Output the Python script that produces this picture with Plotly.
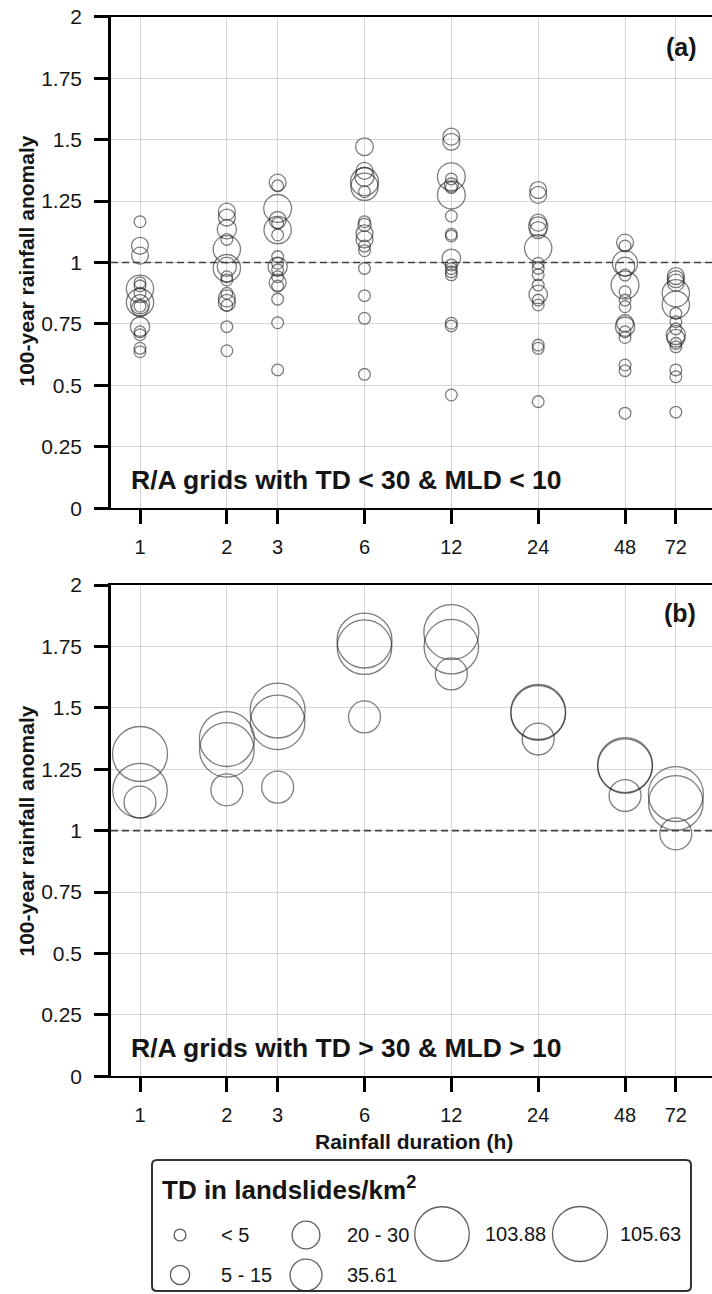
import numpy as np
import plotly.graph_objects as go

# ---------------------------------------------------------------- data
durations = [1, 2, 3, 6, 12, 24, 48, 72]
duration_labels = ["1", "2", "3", "6", "12", "24", "48", "72"]
anomaly_ticks = [0, 0.25, 0.5, 0.75, 1, 1.25, 1.5, 1.75, 2]
anomaly_tick_labels = ["0", "0.25", "0.5", "0.75", "1", "1.25", "1.5", "1.75", "2"]

# (a) R/A grids with TD < 30 & MLD < 10 : anomaly and TD per grid, one list per duration
a_anomaly = [
    [1.166, 1.068, 1.028, 0.918, 0.905, 0.893, 0.875, 0.838, 0.830, 0.822, 0.815, 0.739, 0.718, 0.706, 0.651, 0.637],
    [1.207, 1.183, 1.135, 1.094, 1.054, 0.983, 0.977, 0.942, 0.929, 0.875, 0.854, 0.836, 0.826, 0.739, 0.641],
    [1.325, 1.312, 1.220, 1.173, 1.160, 1.132, 1.112, 1.024, 0.997, 0.983, 0.970, 0.942, 0.918, 0.904, 0.851, 0.755, 0.563],
    [1.471, 1.373, 1.349, 1.329, 1.308, 1.288, 1.166, 1.153, 1.119, 1.094, 1.067, 1.048, 0.976, 0.865, 0.773, 0.545],
    [1.512, 1.491, 1.349, 1.340, 1.315, 1.305, 1.275, 1.189, 1.115, 1.108, 1.017, 0.990, 0.975, 0.962, 0.950, 0.753, 0.742, 0.461],
    [1.295, 1.275, 1.162, 1.146, 1.132, 1.058, 0.997, 0.976, 0.950, 0.908, 0.870, 0.847, 0.827, 0.664, 0.651, 0.434],
    [1.081, 1.067, 0.997, 0.983, 0.949, 0.908, 0.881, 0.847, 0.820, 0.753, 0.739, 0.718, 0.695, 0.583, 0.560, 0.387],
    [0.945, 0.932, 0.918, 0.875, 0.828, 0.793, 0.759, 0.730, 0.705, 0.692, 0.671, 0.657, 0.563, 0.535, 0.391],
]
a_td = [
    [4.8, 10, 10, 4.8, 4.8, 26, 4.8, 26, 13, 4.8, 10, 13, 4.8, 4.8, 4.8, 4.8],
    [10, 10, 13, 4.8, 26, 13, 26, 4.8, 4.8, 4.8, 10, 10, 4.8, 4.8, 4.8],
    [10, 4.8, 27, 10, 4.8, 26, 4.8, 4.8, 4.8, 13, 4.8, 4.8, 10, 4.8, 4.8, 4.8, 4.8],
    [11, 10, 13, 27, 26, 4.8, 4.8, 6, 10, 10, 4.8, 4.8, 4.8, 4.8, 4.8, 4.8],
    [10, 10, 27, 4.8, 7, 4.8, 27, 4.8, 4.8, 4.8, 12, 4.8, 4.8, 4.8, 4.8, 4.8, 4.8, 4.8],
    [10, 10, 10, 13, 10, 26, 4.8, 4.8, 4.8, 4.8, 12, 4.8, 4.8, 4.8, 4.8, 4.8],
    [10, 4.8, 22, 13, 4.8, 27, 4.8, 4.8, 4.8, 10, 13, 4.8, 4.8, 4.8, 4.8, 4.8],
    [10, 10, 10, 26, 26, 4.8, 4.8, 4.8, 13, 11, 4.8, 4.8, 4.8, 4.8, 4.8],
]

# (b) R/A grids with TD > 30 & MLD > 10 : the three grids (TD 105.63, 103.88, 35.61)
b_td = [105.63, 103.88, 35.61]
b_anomaly = [
    [1.312, 1.163, 1.116],
    [1.373, 1.329, 1.166],
    [1.489, 1.441, 1.177],
    [1.774, 1.747, 1.463],
    [1.808, 1.749, 1.638],
    [1.483, 1.479, 1.373],
    [1.267, 1.263, 1.143],
    [1.149, 1.113, 0.987],
]

# legend entries: label and representative TD
legend_labels = ["< 5", "5 - 15", "20 - 30", "35.61", "103.88", "105.63"]
legend_td = [4.9, 13, 27, 35.61, 103.88, 105.63]

# ---------------------------------------------------------------- layout constants
W, H = 712, 1294
ML = 111
FONT = "Liberation Sans, Arial, Helvetica, sans-serif"
INK = "#151515"
CIRCLE = "rgba(30,30,30,0.82)"


def bubble_px(td):
    """Circle diameter in px, area proportional to TD."""
    return 5.35 * np.sqrt(np.asarray(td, dtype=float))


def px_x(px):
    return (px - ML) / (W - ML)


def px_y(py):
    return (H - py) / H


fig = go.Figure()

# panel (a)
ax_, ay_, as_ = [], [], []
for d, vals, tds in zip(durations, a_anomaly, a_td):
    ax_ += [d] * len(vals)
    ay_ += vals
    as_ += list(bubble_px(tds))
fig.add_trace(go.Scatter(
    x=ax_, y=ay_, mode="markers", xaxis="x", yaxis="y", showlegend=False,
    marker=dict(size=as_, color="rgba(0,0,0,0)", line=dict(color=CIRCLE, width=1.3)),
))

# panel (b)
bx_, by_, bs_ = [], [], []
for d, vals in zip(durations, b_anomaly):
    bx_ += [d] * len(vals)
    by_ += vals
    bs_ += list(bubble_px(b_td))
fig.add_trace(go.Scatter(
    x=bx_, y=by_, mode="markers", xaxis="x2", yaxis="y2", showlegend=False,
    marker=dict(size=bs_, color="rgba(0,0,0,0)", line=dict(color=CIRCLE, width=1.3)),
))

# size legend drawn on a pixel-unit helper axis
leg_pos = [(180, 1235), (180, 1275), (306, 1235), (306, 1275), (442, 1234), (580, 1234)]
leg_text_x = [219, 219, 345, 345, 483, 618]
fig.add_trace(go.Scatter(
    x=[p[0] for p in leg_pos], y=[-p[1] for p in leg_pos], mode="markers",
    xaxis="x3", yaxis="y3", showlegend=False, cliponaxis=False,
    marker=dict(size=list(bubble_px(legend_td)), color="rgba(0,0,0,0)",
                line=dict(color="#1e1e1e", width=1.3)),
))

annotations = []
for lab, (cx, cy), tx in zip(legend_labels, leg_pos, leg_text_x):
    annotations.append(dict(
        x=tx, y=-cy, xref="x3", yref="y3", text=lab, showarrow=False,
        xanchor="left", yanchor="middle", font=dict(family=FONT, size=20, color=INK),
    ))
annotations.append(dict(
    x=160, y=-1188, xref="x3", yref="y3", text="<b>TD in landslides/km<sup>2</sup></b>",
    showarrow=False, xanchor="left", yanchor="middle",
    font=dict(family=FONT, size=26, color=INK),
))

# panel texts
for letter, (cx, cy) in zip(["(a)", "(b)"], [(681, 47), (680, 613)]):
    annotations.append(dict(
        x=px_x(cx), y=px_y(cy), xref="paper", yref="paper", text=f"<b>{letter}</b>",
        showarrow=False, xanchor="center", yanchor="middle",
        font=dict(family=FONT, size=25, color=INK),
    ))
for txt, cy in [("R/A grids with TD &lt; 30 &amp; MLD &lt; 10", 480),
                ("R/A grids with TD &gt; 30 &amp; MLD &gt; 10", 1048)]:
    annotations.append(dict(
        x=px_x(129), y=px_y(cy), xref="paper", yref="paper", text=f"<b>{txt}</b>",
        showarrow=False, xanchor="left", yanchor="middle",
        font=dict(family=FONT, size=26.5, color=INK),
    ))
for cy in [260.5, 830.5]:
    annotations.append(dict(
        x=px_x(26), y=px_y(cy), xref="paper", yref="paper",
        text="<b>100-year rainfall anomaly</b>", textangle=-90,
        showarrow=False, xanchor="center", yanchor="middle",
        font=dict(family=FONT, size=21, color=INK),
    ))
annotations.append(dict(
    x=px_x(414), y=px_y(1141), xref="paper", yref="paper",
    text="<b>Rainfall duration (h)</b>", showarrow=False,
    xanchor="center", yanchor="middle", font=dict(family=FONT, size=21, color=INK),
))

# rounded legend frame (pixel units on the helper axis)
bx0, bx1, by0, by1, r = 152, 691, -1160, -1291, 5
frame_path = (
    f"M {bx0 + r},{by0} L {bx1 - r},{by0} Q {bx1},{by0} {bx1},{by0 - r} "
    f"L {bx1},{by1 + r} Q {bx1},{by1} {bx1 - r},{by1} "
    f"L {bx0 + r},{by1} Q {bx0},{by1} {bx0},{by1 + r} "
    f"L {bx0},{by0 - r} Q {bx0},{by0} {bx0 + r},{by0} Z"
)

# reference line at anomaly = 1 and legend frame
shapes = [
    dict(type="line", xref="x domain", yref="y", x0=0, x1=1, y0=1, y1=1,
         line=dict(color="#404040", width=1.6, dash="7px,4px")),
    dict(type="line", xref="x2 domain", yref="y2", x0=0, x1=1, y0=1, y1=1,
         line=dict(color="#404040", width=1.6, dash="7px,4px")),
    dict(type="path", xref="x3", yref="y3", path=frame_path,
         line=dict(color="#333333", width=2), layer="below"),
]

xr = [(ML - 140) / 288.5, (W - 140) / 288.5]
xaxis_common = dict(
    type="log", range=xr, tickvals=durations, ticktext=duration_labels,
    showgrid=True, gridcolor="#d6d6d6", gridwidth=1, zeroline=False,
    showline=True, linecolor="black", linewidth=2, mirror=True,
    ticks="outside", ticklen=14, tickwidth=2.5, tickcolor="black",
    tickfont=dict(family=FONT, size=20, color=INK), ticklabelstandoff=6,
    automargin=False, fixedrange=True,
)
yaxis_common = dict(
    range=[0, 2], tickvals=anomaly_ticks, ticktext=anomaly_tick_labels,
    showgrid=True, gridcolor="#d6d6d6", gridwidth=1, zeroline=False,
    showline=True, linecolor="black", linewidth=2.5, mirror=False,
    ticks="outside", ticklen=14, tickwidth=2.5, tickcolor="black",
    tickfont=dict(family=FONT, size=21, color=INK), ticklabelstandoff=8,
    automargin=False, fixedrange=True,
)

fig.update_layout(
    width=W, height=H,
    margin=dict(l=ML, r=0, t=0, b=0),
    paper_bgcolor="white", plot_bgcolor="white",
    font=dict(family=FONT, color=INK),
    xaxis=dict(xaxis_common, anchor="y"),
    yaxis=dict(yaxis_common, anchor="x", domain=[px_y(508.3), px_y(16.7)]),
    xaxis2=dict(xaxis_common, anchor="y2"),
    yaxis2=dict(yaxis_common, anchor="x2", domain=[px_y(1076.3), px_y(585)]),
    xaxis3=dict(anchor="y3", domain=[0, 1], range=[ML, W], visible=False, fixedrange=True),
    yaxis3=dict(anchor="x3", domain=[0, 0.13], range=[-H, -H + 0.13 * H],
                visible=False, fixedrange=True),
    annotations=annotations,
    shapes=shapes,
    showlegend=False,
)

fig.write_html("out.html")
